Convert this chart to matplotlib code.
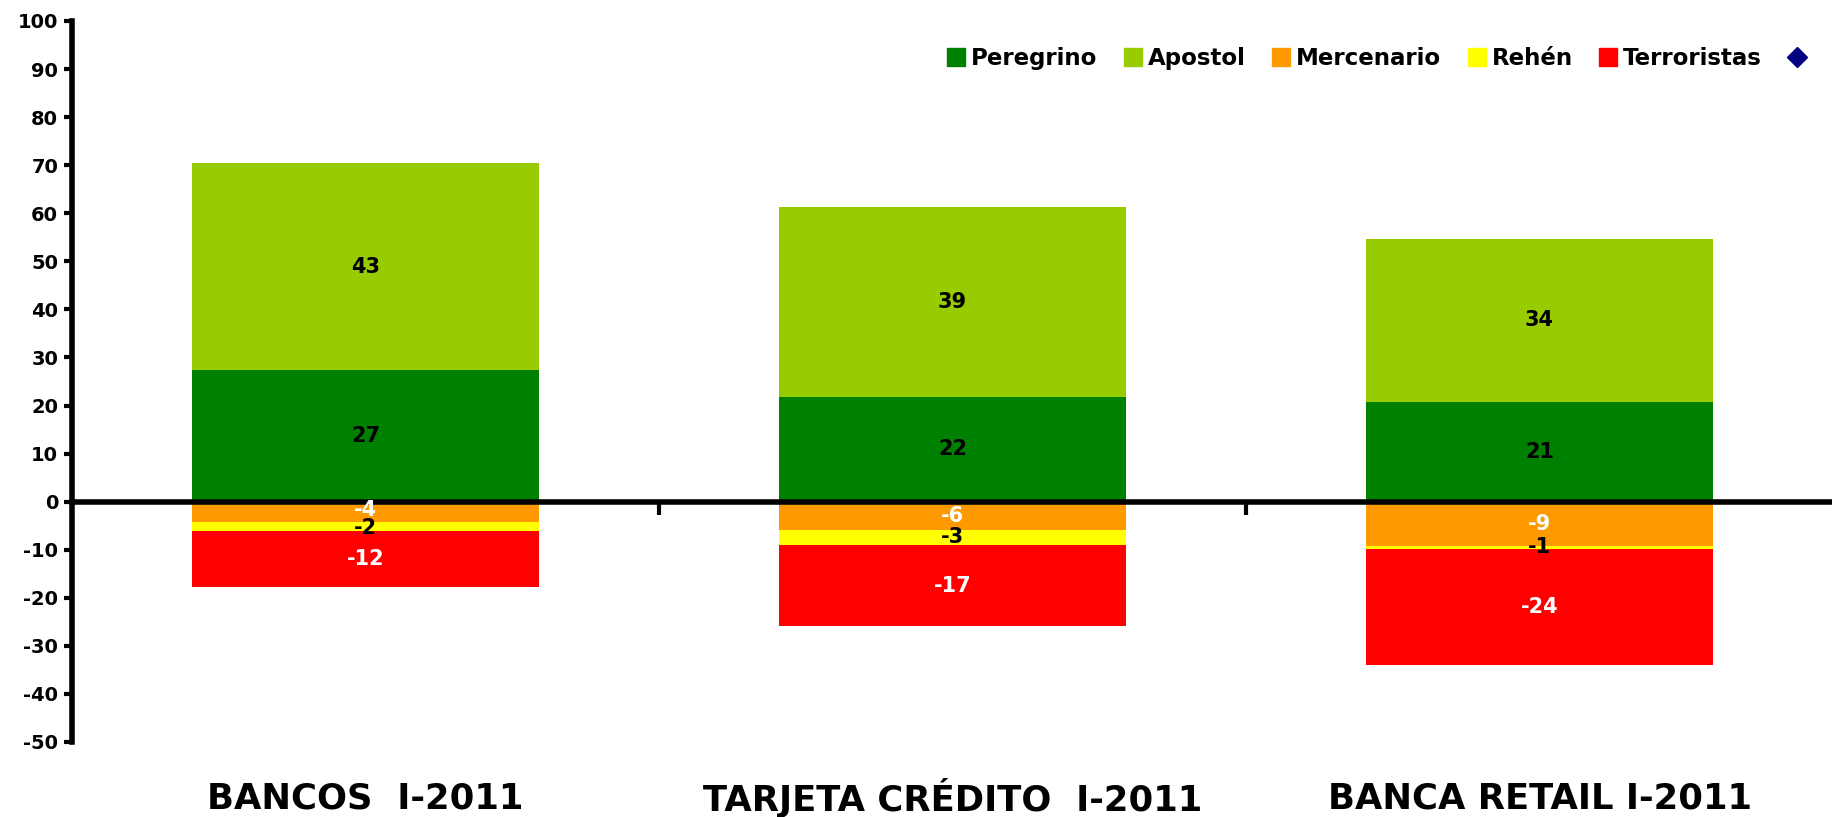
import numpy as np
import matplotlib.pyplot as plt
from matplotlib.lines import Line2D
from matplotlib.transforms import blended_transform_factory

categories = ['BANCOS  I-2011', 'TARJETA CRÉDITO  I-2011', 'BANCA RETAIL I-2011']
peregrino = [27.3, 21.8, 20.8]
apostol = [43.2, 39.4, 33.9]
mercenario = [-4.2, -5.8, -9.2]
rehen = [-2.0, -3.2, -0.6]
terroristas = [-11.6, -16.9, -24.2]

pos_series = [('Peregrino', peregrino, '#008000', 'black'),
              ('Apostol', apostol, '#99CC00', 'black')]
neg_series = [('Mercenario', mercenario, '#FF9900', 'white'),
              ('Rehén', rehen, '#FFFF00', 'black'),
              ('Terroristas', terroristas, '#FF0000', 'white')]

plt.rcParams['font.family'] = 'DejaVu Sans'
plt.rcParams['font.weight'] = 'bold'
plt.rcParams['axes.unicode_minus'] = False

fig = plt.figure(figsize=(18.33, 8.17), dpi=100)
ax = fig.add_axes([0.0393, 0.0918, 0.9607, 0.8825])

x = np.arange(len(categories))
width = 0.59
min_gap = 3.8  # data units between stacked label centres

def draw_stack(series):
    bottom = np.zeros(len(x))
    labels = [[] for _ in x]
    for name, vals, color, tcolor in series:
        vals = np.array(vals)
        ax.bar(x, vals, width, bottom=bottom, color=color, zorder=2)
        for i, (b, v) in enumerate(zip(bottom, vals)):
            labels[i].append([b + v / 2, v, tcolor])
        bottom = bottom + vals
    for i, labs in enumerate(labels):
        # push labels apart where thin segments would make them collide
        for j in range(1, len(labs)):
            gap = abs(labs[j][0] - labs[j - 1][0])
            if gap < min_gap:
                shift = (min_gap - gap) / 2
                sign = np.sign(labs[j][0] - labs[j - 1][0])
                labs[j - 1][0] -= sign * shift
                labs[j][0] += sign * shift
        for y, v, tcolor in labs:
            ax.text(x[i], y, f'{v:.0f}', ha='center', va='center',
                    fontsize=15, fontweight='bold', color=tcolor, zorder=4)

draw_stack(pos_series)
draw_stack(neg_series)

ax.set_xlim(-0.5, 2.5)
ax.set_ylim(-50, 100)
ax.set_yticks(np.arange(-50, 101, 10))
ax.tick_params(axis='y', labelsize=14, width=3, length=6, direction='out', pad=4)
for lbl in ax.get_yticklabels():
    lbl.set_fontweight('bold')

ax.spines['top'].set_visible(False)
ax.spines['right'].set_visible(False)
ax.spines['left'].set_linewidth(4)
ax.spines['bottom'].set_position(('data', 0))
ax.spines['bottom'].set_linewidth(4)
ax.spines['bottom'].set_zorder(3)
ax.set_xticks([0.5, 1.5])
ax.set_xticklabels([])
ax.tick_params(axis='x', width=3, length=9, direction='out')

trans = blended_transform_factory(ax.transData, fig.transFigure)
for xi, cat in zip(x, categories):
    ax.text(xi, 0.023, cat, transform=trans, ha='center', va='center',
            fontsize=25.5, fontweight='bold')

handles = [Line2D([], [], marker='s', linestyle='none', markersize=13, color=c)
           for _, _, c, _ in pos_series + neg_series]
labels = [n for n, _, _, _ in pos_series + neg_series]
handles.append(Line2D([], [], marker='D', linestyle='none', markersize=10, color='#000080'))
labels.append('')
leg = ax.legend(handles, labels, ncol=6, loc='center right',
                bbox_to_anchor=(1.0, 0.948), frameon=False,
                prop={'size': 16.5, 'weight': 'bold'},
                handletextpad=0.2, columnspacing=1.1, handlelength=0.9)

fig.savefig('out.png', dpi=100)
